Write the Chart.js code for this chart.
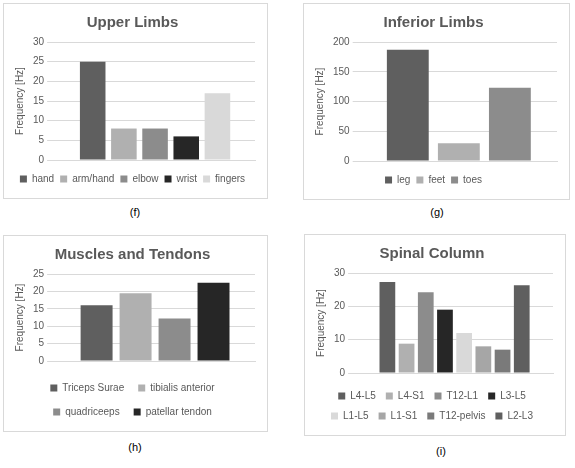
<!DOCTYPE html>
<html><head><meta charset="utf-8">
<script src="https://cdn.jsdelivr.net/npm/chart.js@4"></script>
<style>
body{margin:0;background:#fff;font-family:"Liberation Sans",Arial,sans-serif;width:575px;height:468px;position:relative}
.box{position:absolute;border:1px solid #d9d9d9;box-sizing:border-box;background:#fff}
.cap{position:absolute;font-size:11px;color:#000;width:40px;text-align:center}
</style></head><body>
<div class="box" style="left:3px;top:3px;width:265px;height:196px"><canvas id="c1"></canvas></div>
<div class="box" style="left:303px;top:3px;width:267px;height:197px"><canvas id="c2"></canvas></div>
<div class="box" style="left:3px;top:235px;width:265px;height:197px"><canvas id="c3"></canvas></div>
<div class="box" style="left:304px;top:234px;width:262px;height:202px"><canvas id="c4"></canvas></div>
<div class="cap" style="left:115px;top:206px">(f)</div>
<div class="cap" style="left:417px;top:206px">(g)</div>
<div class="cap" style="left:115px;top:441px">(h)</div>
<div class="cap" style="left:421px;top:445px">(i)</div>
<script>
const upperNames=["hand","arm/hand","elbow","wrist","fingers"];
const upperValues=[25,8,8,6,17];
const upperColors=["#5f5f5f","#b0b0b0","#8c8c8c","#262626","#d9d9d9"];
const lowerNames=["leg","feet","toes"];
const lowerValues=[187,30,123];
const lowerColors=["#5f5f5f","#b0b0b0","#8c8c8c"];
const muscleNames=["Triceps Surae","tibialis anterior","quadriceeps","patellar tendon"];
const muscleValues=[16,19.5,12.2,22.5];
const muscleColors=["#5f5f5f","#b0b0b0","#8c8c8c","#262626"];
const spineNames=["L4-L5","L4-S1","T12-L1","L3-L5","L1-L5","L1-S1","T12-pelvis","L2-L3"];
const spineValues=[27.3,8.8,24.2,19,12,8,7,26.3];
const spineColors=["#5f5f5f","#b0b0b0","#8c8c8c","#262626","#d9d9d9","#a6a6a6","#7a7a7a","#5f5f5f"];
function make(id,title,names,values,colors,max,step,w,h,legendPad){
  const cv=document.getElementById(id);
  new Chart(cv,{type:'bar',
    data:{labels:[''],datasets:names.map((n,i)=>({label:n,data:[values[i]],backgroundColor:colors[i]}))},
    options:{responsive:false,animation:false,devicePixelRatio:1,
      layout:{padding:{left:6,right:12,top:4,bottom:4}},
      datasets:{bar:{categoryPercentage:0.78,barPercentage:0.82}},
      plugins:{title:{display:true,text:title,color:'#595959',font:{size:15,weight:'bold',family:'Liberation Sans'},padding:{top:6,bottom:10}},
        legend:{position:'bottom',labels:{boxWidth:7,boxHeight:7,padding:legendPad,color:'#595959',font:{size:10,family:'Liberation Sans'}}},
        tooltip:{enabled:false}},
      scales:{x:{grid:{display:false},border:{color:'#d9d9d9'},ticks:{display:false}},
        y:{min:0,max:max,ticks:{stepSize:step,color:'#595959',font:{size:10}},grid:{color:'#d9d9d9'},border:{display:false},
          title:{display:true,text:'Frequency [Hz]',color:'#595959',font:{size:10}}}}}});
}
function size(id,w,h){const c=document.getElementById(id);c.width=w;c.height=h;c.style.width=w+'px';c.style.height=h+'px';}
size('c1',263,194);size('c2',265,195);size('c3',263,195);size('c4',260,200);
make('c1','Upper Limbs',upperNames,upperValues,upperColors,30,5,263,194,6);
make('c2','Inferior Limbs',lowerNames,lowerValues,lowerColors,200,50,265,195,6);
make('c3','Muscles and Tendons',muscleNames,muscleValues,muscleColors,25,5,263,195,14);
make('c4','Spinal Column',spineNames,spineValues,spineColors,30,10,260,200,10);
</script></body></html>
